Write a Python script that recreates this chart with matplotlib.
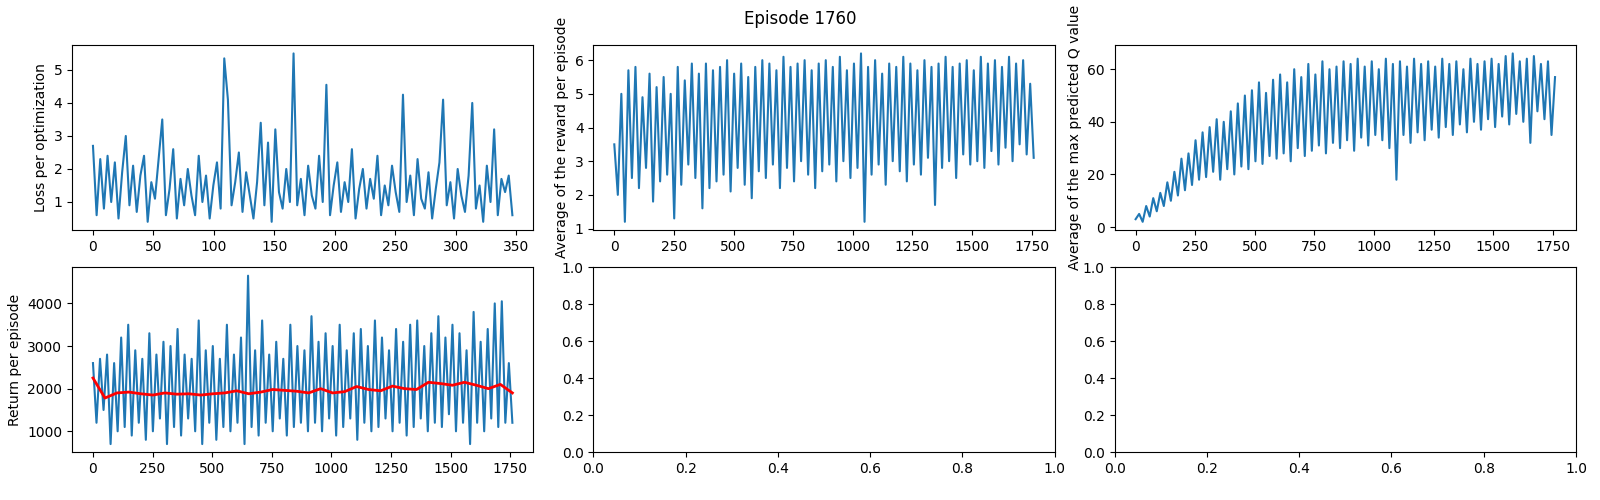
import matplotlib.pyplot as plt
import numpy as np

episode = 1760

loss = [2.7, 0.6, 2.3, 0.8, 2.4, 1.0, 2.2, 0.5, 1.9, 3.0, 0.9, 2.1, 0.7, 1.8, 2.4, 0.4, 1.6, 1.1, 2.3, 3.5,
        0.6, 1.4, 2.6, 0.5, 1.7, 0.9, 2.0, 1.2, 0.6, 2.4, 1.0, 1.8, 0.5, 1.5, 2.2, 0.8, 5.35, 4.1, 0.9, 1.6,
        2.5, 0.7, 1.9, 1.2, 0.5, 1.6, 3.4, 0.9, 2.8, 0.4, 3.2, 1.3, 0.8, 2.0, 1.0, 5.5, 0.9, 1.7, 0.6, 2.1,
        1.2, 0.8, 2.4, 1.0, 4.55, 0.6, 1.5, 2.2, 0.7, 1.6, 1.0, 2.6, 0.5, 1.4, 2.0, 0.8, 1.7, 1.1, 2.4, 0.6,
        1.5, 0.9, 2.1, 1.3, 0.7, 4.25, 1.0, 1.8, 0.6, 2.3, 1.1, 0.8, 1.9, 0.5, 1.4, 2.2, 4.1, 0.9, 1.6, 0.5,
        2.0, 1.2, 0.7, 1.8, 4.0, 0.8, 1.5, 0.4, 2.1, 1.0, 3.2, 0.6, 1.7, 1.3, 1.8, 0.6]

reward = [3.5, 2.0, 5.0, 1.2, 5.7, 2.5, 5.8, 2.2, 4.9, 2.8, 5.6, 1.8, 5.2, 2.4, 5.5, 2.6, 5.0, 1.3, 5.8, 2.3,
          5.4, 2.9, 5.9, 2.5, 5.6, 1.6, 5.9, 2.2, 5.7, 2.4, 5.8, 2.6, 6.0, 2.1, 5.6, 2.8, 5.9, 2.3, 5.5, 1.9,
          5.8, 2.7, 6.0, 2.5, 5.9, 2.9, 5.7, 2.2, 6.1, 2.8, 5.8, 2.4, 5.9, 3.0, 6.0, 2.6, 5.7, 2.2, 5.9, 2.7,
          6.0, 2.9, 5.8, 2.4, 6.1, 3.0, 5.7, 2.5, 5.9, 2.8, 6.2, 1.2, 5.8, 2.6, 6.0, 2.9, 5.6, 2.3, 5.9, 3.0,
          5.8, 2.7, 6.1, 2.4, 5.9, 2.9, 5.7, 2.6, 6.0, 3.1, 5.8, 1.7, 5.9, 2.8, 6.1, 3.0, 5.8, 2.5, 5.9, 3.2,
          6.0, 2.9, 5.7, 3.0, 6.1, 2.8, 5.9, 3.3, 6.0, 2.9, 5.8, 3.4, 6.1, 3.0, 5.9, 3.5, 6.0, 3.2, 5.3, 3.1]

max_q = [3, 5, 2, 8, 4, 11, 6, 13, 8, 17, 10, 21, 12, 26, 14, 28, 16, 33, 18, 36,
         19, 38, 21, 41, 18, 40, 22, 44, 20, 47, 23, 50, 22, 52, 25, 55, 24, 51, 27, 56,
         26, 58, 28, 55, 25, 60, 30, 57, 27, 62, 29, 58, 31, 63, 28, 60, 32, 61, 30, 63,
         33, 62, 29, 64, 34, 61, 31, 63, 35, 60, 33, 64, 30, 62, 18, 63, 35, 61, 32, 64,
         36, 62, 33, 63, 37, 61, 34, 64, 38, 62, 35, 63, 39, 60, 36, 64, 40, 62, 37, 63,
         41, 64, 38, 62, 42, 65, 39, 66, 43, 63, 40, 64, 32, 65, 44, 62, 41, 63, 35, 57]

returns = [2600, 1200, 2700, 1500, 2800, 700, 2600, 1000, 3200, 1100, 3500, 900, 2900, 1200, 2700, 800, 3300, 1000, 2800, 1300,
           3100, 700, 3000, 1100, 3400, 900, 2800, 1300, 2700, 1000, 3600, 700, 2900, 1200, 3000, 800, 2700, 1100, 3500, 1000,
           2800, 1200, 3200, 700, 4650, 1100, 2900, 900, 3600, 1200, 2800, 1000, 3100, 1300, 2700, 900, 3500, 1100, 3000, 1200,
           2900, 1000, 3700, 1200, 3100, 1000, 3300, 1300, 3000, 900, 3500, 1100, 2900, 1300, 3300, 800, 3400, 1200, 3000, 1000,
           3600, 1100, 3200, 1300, 2900, 1000, 3400, 1200, 3100, 900, 3500, 1100, 3600, 1300, 3000, 1000, 3300, 1200, 3700, 1100,
           3200, 1400, 3500, 1000, 3300, 1200, 2900, 700, 3800, 1200, 3100, 1000, 3400, 1300, 4000, 1100, 4050, 1200, 2600, 1200]

return_avg = [2250, 1780, 1900, 1920, 1880, 1850, 1900, 1870, 1880, 1850, 1880, 1900, 1950, 1880, 1920, 1980, 1960, 1940,
              1900, 2000, 1900, 1930, 2050, 1980, 1950, 2060, 2000, 1980, 2150, 2120, 2080, 2150, 2080, 2000, 2100, 1900]

fig, axes = plt.subplots(2, 3, figsize=(16, 5), dpi=100)
fig.suptitle('Episode %d' % episode)

ax = axes[0, 0]
ax.plot(np.linspace(0, 347, len(loss)), loss)
ax.set_ylabel('Loss per optimization')

ax = axes[0, 1]
ax.plot(np.linspace(0, episode - 1, len(reward)), reward)
ax.set_ylabel('Average of the reward per episode')

ax = axes[0, 2]
ax.plot(np.linspace(0, episode - 1, len(max_q)), max_q)
ax.set_ylabel('Average of the max predicted Q value')

ax = axes[1, 0]
ax.plot(np.linspace(0, episode - 1, len(returns)), returns)
ax.plot(np.linspace(0, episode - 1, len(return_avg)), return_avg, color='red', linewidth=2)
ax.set_ylabel('Return per episode')

plt.subplots_adjust(left=0.045, right=0.985, top=0.91, bottom=0.095, wspace=0.13, hspace=0.2)
plt.savefig('out.png')
